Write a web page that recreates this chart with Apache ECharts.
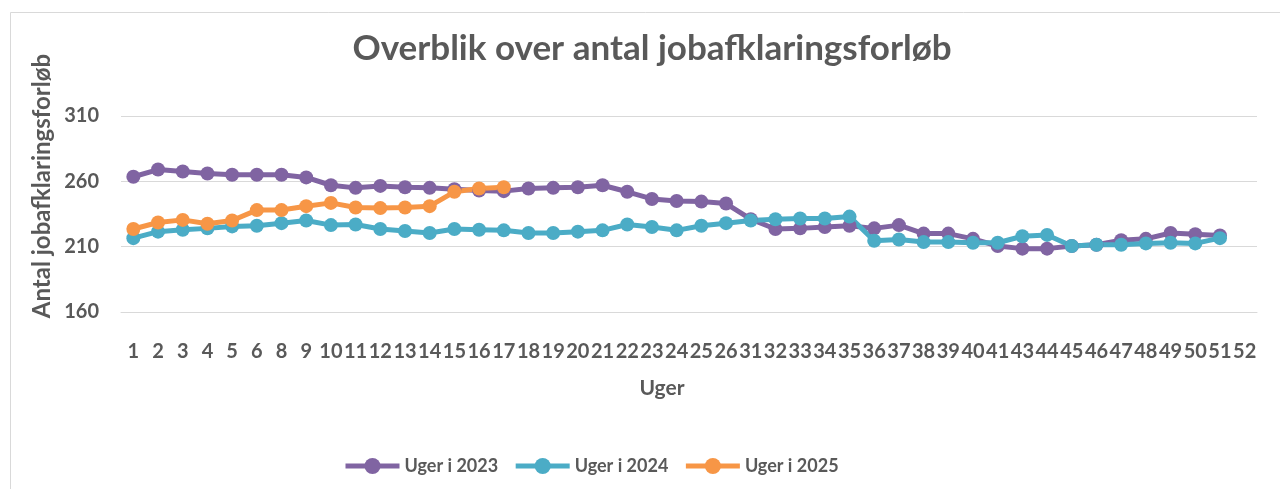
<!DOCTYPE html>
<html>
<head>
<meta charset="utf-8">
<script src="https://cdn.jsdelivr.net/npm/echarts@6/dist/echarts.min.js"></script>
<style>
html,body{margin:0;padding:0;background:#fff;}
#chart{width:1280px;height:489px;}
</style>
</head>
<body>
<div id="chart"></div>
<script>
const weeks = ['1','2','3','4','5','6','8','9','10','11','12','13','14','15','16','17','18','19','20','21','22','23','24','25','26','31','32','33','34','35','36','37','38','39','40','41','43','44','45','46','47','48','49','50','51','52'];
const uger2023 = [263.5,269,267.5,266,265,265,265,263,257,255,256.5,255.5,255,254,253,252.5,254.5,255,255.5,257,252,246.5,245,244.5,243,231,223.5,224,225,226,224,226.5,220,220,216,210.5,208.5,208.5,210.5,211.5,215,216,220.5,219.5,218.5,null];
const uger2024 = [216.5,221.5,223,224,225.5,226,228,230,226.5,227,223.5,222,220.5,223.5,223,222.5,220.5,220.5,221.5,222.5,227,225,222.5,226,228,230,231,231.5,231.5,233,214.5,215.5,213.5,213.5,213,213,218,219,210.5,211.5,211.5,212.5,213,212.5,216.5,null];
const uger2025 = [223.5,228.5,230.5,227.5,230,238,238,241,243.5,240,239.5,240,241,252,254.5,255.5];
const seriesNames = ['Uger i 2023','Uger i 2024','Uger i 2025'];
const yTicks = {min:160, max:310, interval:50};
const chartTitle = 'Overblik over antal jobafklaringsforløb';
const yTitle = 'Antal jobafklaringsforløb';
const xTitle = 'Uger';

const FONT = 'Lato';
const TXT = '#595959';
const colors = ['#8064a2','#4bacc6','#f79646'];

const chart = echarts.init(document.getElementById('chart'));
function mk(name, data, color){
  return {
    name: name, type:'line', data: data,
    symbol:'circle', symbolSize:14,
    lineStyle:{width:5,color:color},
    itemStyle:{color:color},
    connectNulls:false,
    animation:false
  };
}
chart.setOption({
  animation:false,
  backgroundColor:'#fff',
  title:{
    text: chartTitle, left: 647, top: 26, textAlign:'center',
    textStyle:{fontFamily:FONT,fontWeight:'bold',fontSize:35,color:TXT}
  },
  graphic:[
    {type:'rect', z:-10, shape:{x:10.5,y:12.5,width:1300,height:520}, style:{fill:null,stroke:'#d9d9d9',lineWidth:1}},
    {type:'text', x:42, y:186, rotation:Math.PI/2,
      style:{text:yTitle, fontFamily:FONT, fontWeight:'bold', fontSize:24, fill:TXT, align:'center', verticalAlign:'middle'}},
    {type:'text', x:662, y:388,
      style:{text:xTitle, fontFamily:FONT, fontWeight:'bold', fontSize:21, fill:TXT, align:'center', verticalAlign:'middle'}}
  ],
  legend:{
    left:338, top:452, itemWidth:54, itemHeight:20, itemGap:15,
    lineStyle:{width:5},
    textStyle:{fontFamily:FONT,fontWeight:'bold',fontSize:18,color:TXT},
    data: seriesNames
  },
  grid:{left:121, right:23, top:116, bottom:177, containLabel:false},
  xAxis:{
    type:'category', data: weeks, boundaryGap:true,
    axisLine:{show:true,lineStyle:{color:'#d9d9d9'}},
    axisTick:{show:false},
    axisLabel:{interval:0, margin:30, fontFamily:FONT, fontWeight:'bold', fontSize:20, color:TXT}
  },
  yAxis:{
    type:'value', min:yTicks.min, max:yTicks.max, interval:yTicks.interval,
    axisLine:{show:false}, axisTick:{show:false},
    splitLine:{lineStyle:{color:'#d9d9d9',width:1}},
    axisLabel:{margin:22, fontFamily:FONT, fontWeight:'bold', fontSize:20, color:TXT}
  },
  series:[
    mk(seriesNames[0], uger2023, colors[0]),
    mk(seriesNames[1], uger2024, colors[1]),
    mk(seriesNames[2], uger2025, colors[2])
  ]
});
</script>
</body>
</html>
